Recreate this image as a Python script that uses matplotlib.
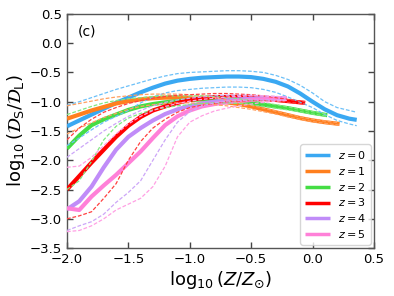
import numpy as np
import matplotlib
matplotlib.use("Agg")
import matplotlib.pyplot as plt

# ---- data ----
x_full = [-2.0, -1.9, -1.8, -1.7, -1.6, -1.5, -1.4, -1.3, -1.2, -1.1, -1.0,
          -0.9, -0.8, -0.7, -0.6, -0.5, -0.4, -0.3, -0.2, -0.1, 0.0, 0.1, 0.2, 0.3, 0.36]

# z = 0
x_z0 = x_full
med_z0 = [-1.42, -1.32, -1.22, -1.12, -1.02, -0.93, -0.84, -0.76, -0.69, -0.64, -0.61,
          -0.59, -0.58, -0.57, -0.57, -0.58, -0.61, -0.66, -0.74, -0.86, -1.00, -1.13, -1.23, -1.29, -1.31]
up_z0 = [-1.06, -1.00, -0.93, -0.86, -0.79, -0.73, -0.67, -0.61, -0.56, -0.52, -0.50,
         -0.49, -0.48, -0.47, -0.47, -0.48, -0.50, -0.55, -0.62, -0.72, -0.85, -1.00, -1.10, -1.15, -1.18]
lo_z0 = [-1.75, -1.62, -1.48, -1.35, -1.25, -1.15, -1.02, -0.92, -0.85, -0.81, -0.79,
         -0.77, -0.76, -0.75, -0.75, -0.76, -0.79, -0.84, -0.92, -1.01, -1.10, -1.22, -1.32, -1.38, -1.41]

# z = 1
x_z1 = [-2.0, -1.9, -1.8, -1.7, -1.6, -1.5, -1.4, -1.3, -1.2, -1.1, -1.0,
        -0.9, -0.8, -0.7, -0.6, -0.5, -0.4, -0.3, -0.2, -0.1, 0.0, 0.1, 0.22]
med_z1 = [-1.29, -1.22, -1.15, -1.09, -1.03, -0.99, -0.96, -0.94, -0.93, -0.93, -0.94,
          -0.96, -0.98, -1.01, -1.04, -1.08, -1.13, -1.18, -1.23, -1.28, -1.32, -1.35, -1.38]
up_z1 = [-1.07, -1.03, -0.99, -0.95, -0.92, -0.90, -0.88, -0.87, -0.87, -0.87, -0.88,
         -0.90, -0.93, -0.97, -1.01, -1.06, -1.11, -1.16, -1.21, -1.26, -1.30, -1.33, -1.36]
lo_z1 = [-1.55, -1.45, -1.36, -1.27, -1.20, -1.13, -1.08, -1.05, -1.03, -1.02, -1.02,
         -1.03, -1.05, -1.07, -1.10, -1.13, -1.17, -1.21, -1.26, -1.30, -1.34, -1.37, -1.40]

# z = 2
x_z2 = [-2.0, -1.9, -1.8, -1.7, -1.6, -1.5, -1.4, -1.3, -1.2, -1.1, -1.0,
        -0.9, -0.8, -0.7, -0.6, -0.5, -0.4, -0.3, -0.2, -0.1, 0.0, 0.12]
med_z2 = [-1.80, -1.58, -1.40, -1.30, -1.22, -1.14, -1.08, -1.04, -1.01, -0.99, -0.97,
          -0.96, -0.96, -0.97, -0.99, -1.02, -1.05, -1.08, -1.11, -1.15, -1.19, -1.23]
up_z2 = [-1.22, -1.15, -1.08, -1.02, -0.98, -0.95, -0.93, -0.91, -0.90, -0.90, -0.90,
         -0.90, -0.91, -0.93, -0.95, -0.98, -1.02, -1.05, -1.09, -1.13, -1.17, -1.21]
lo_z2 = [-2.50, -2.35, -2.02, -1.65, -1.42, -1.28, -1.20, -1.14, -1.10, -1.07, -1.05,
         -1.03, -1.02, -1.02, -1.03, -1.05, -1.08, -1.11, -1.14, -1.17, -1.21, -1.25]

# z = 3
x_z3 = [-2.0, -1.9, -1.8, -1.7, -1.6, -1.5, -1.4, -1.3, -1.2, -1.1, -1.0,
        -0.9, -0.8, -0.7, -0.6, -0.5, -0.4, -0.3, -0.2, -0.06]
med_z3 = [-2.50, -2.27, -2.04, -1.82, -1.60, -1.41, -1.26, -1.15, -1.08, -1.02, -0.97,
          -0.94, -0.92, -0.92, -0.92, -0.93, -0.95, -0.97, -0.99, -1.02]
up_z3 = [-1.65, -1.45, -1.30, -1.18, -1.10, -1.03, -0.98, -0.94, -0.91, -0.89, -0.88,
         -0.87, -0.86, -0.86, -0.87, -0.88, -0.90, -0.93, -0.96, -1.00]
lo_z3 = [-3.00, -2.95, -2.88, -2.65, -2.40, -2.00, -1.68, -1.45, -1.30, -1.18, -1.10,
         -1.06, -1.03, -1.00, -0.99, -0.98, -0.98, -0.99, -1.01, -1.04]

# z = 4
x_z4 = [-2.0, -1.9, -1.8, -1.7, -1.6, -1.5, -1.4, -1.3, -1.2, -1.1, -1.0,
        -0.9, -0.8, -0.7, -0.6, -0.5, -0.4, -0.3, -0.21]
med_z4 = [-2.84, -2.70, -2.45, -2.12, -1.82, -1.60, -1.45, -1.32, -1.21, -1.13, -1.07,
          -1.03, -1.00, -0.97, -0.96, -0.95, -0.94, -0.94, -0.94]
up_z4 = [-1.95, -1.80, -1.65, -1.50, -1.37, -1.25, -1.15, -1.07, -1.01, -0.97, -0.94,
         -0.92, -0.90, -0.89, -0.89, -0.89, -0.90, -0.91, -0.92]
lo_z4 = [-3.20, -3.12, -3.05, -2.92, -2.72, -2.55, -2.35, -2.00, -1.65, -1.35, -1.17,
         -1.07, -1.02, -0.99, -0.98, -0.97, -0.97, -0.97, -0.97]

# z = 5
x_z5 = [-2.0, -1.9, -1.8, -1.7, -1.6, -1.5, -1.4, -1.3, -1.2, -1.1, -1.0,
        -0.9, -0.8, -0.7, -0.6, -0.5, -0.4, -0.3, -0.21]
med_z5 = [-2.82, -2.85, -2.62, -2.43, -2.25, -2.05, -1.85, -1.62, -1.40, -1.25, -1.15,
          -1.08, -1.04, -1.01, -0.99, -0.97, -0.96, -0.95, -0.95]
up_z5 = [-2.12, -2.10, -1.95, -1.75, -1.55, -1.38, -1.25, -1.15, -1.08, -1.03, -0.99,
         -0.96, -0.94, -0.92, -0.91, -0.90, -0.90, -0.91, -0.92]
lo_z5 = [-3.22, -3.20, -3.12, -3.00, -2.85, -2.75, -2.65, -2.45, -2.10, -1.60, -1.35,
         -1.24, -1.16, -1.11, -1.07, -1.04, -1.01, -0.99, -0.98]

labels = ["$z=0$", "$z=1$", "$z=2$", "$z=3$", "$z=4$", "$z=5$"]
colors = ["#3aa8f2", "#ff7f1e", "#44dd44", "#ff0000", "#c08cf8", "#ff80d8"]
light = ["#6cc0f8", "#ffa060", "#80e880", "#ff4040", "#cca6f8", "#ffa0e4"]

series = [
    (x_z0, med_z0, up_z0, lo_z0),
    (x_z1, med_z1, up_z1, lo_z1),
    (x_z2, med_z2, up_z2, lo_z2),
    (x_z3, med_z3, up_z3, lo_z3),
    (x_z4, med_z4, up_z4, lo_z4),
    (x_z5, med_z5, up_z5, lo_z5),
]

fig = plt.figure(figsize=(3.94, 2.96), dpi=100)
ax = fig.add_axes([0.170, 0.162, 0.779, 0.791])

for i, (xs, med, up, lo) in enumerate(series):
    ax.plot(xs, med, color=colors[i], lw=3.0, label=labels[i], zorder=3,
            solid_capstyle='butt')
for i, (xs, med, up, lo) in enumerate(series):
    ax.plot(xs, up, color=light[i], lw=0.9, ls=(0, (3, 1.5)), zorder=4)
    ax.plot(xs, lo, color=light[i], lw=0.9, ls=(0, (3, 1.5)), zorder=4)

ax.set_xlim(-2.0, 0.5)
ax.set_ylim(-3.5, 0.5)
ax.set_xticks([-2.0, -1.5, -1.0, -0.5, 0.0, 0.5])
ax.set_yticks([-3.5, -3.0, -2.5, -2.0, -1.5, -1.0, -0.5, 0.0, 0.5])
ax.tick_params(direction='in', top=True, right=True, length=4, width=1,
               labelsize=9.5, colors='#444444', labelcolor='black')
for s in ax.spines.values():
    s.set_color('#555555')
    s.set_linewidth(1.0)

ax.set_xlabel(r"$\log_{10}(Z/Z_{\odot})$", fontsize=13, labelpad=2)
ax.set_ylabel(r"$\log_{10}(\mathcal{D}_{\rm S}/\mathcal{D}_{\rm L})$", fontsize=13, labelpad=2)
ax.text(0.035, 0.955, "(c)", transform=ax.transAxes, fontsize=10, va='top', ha='left')

leg = ax.legend(loc='lower right', fontsize=8, handlelength=2.3, handletextpad=0.7,
                labelspacing=0.35, borderpad=0.4, frameon=True, fancybox=True,
                borderaxespad=0.3)
for h in leg.get_lines():
    h.set_linewidth(2.5)

fig.savefig("out.png", dpi=100)
